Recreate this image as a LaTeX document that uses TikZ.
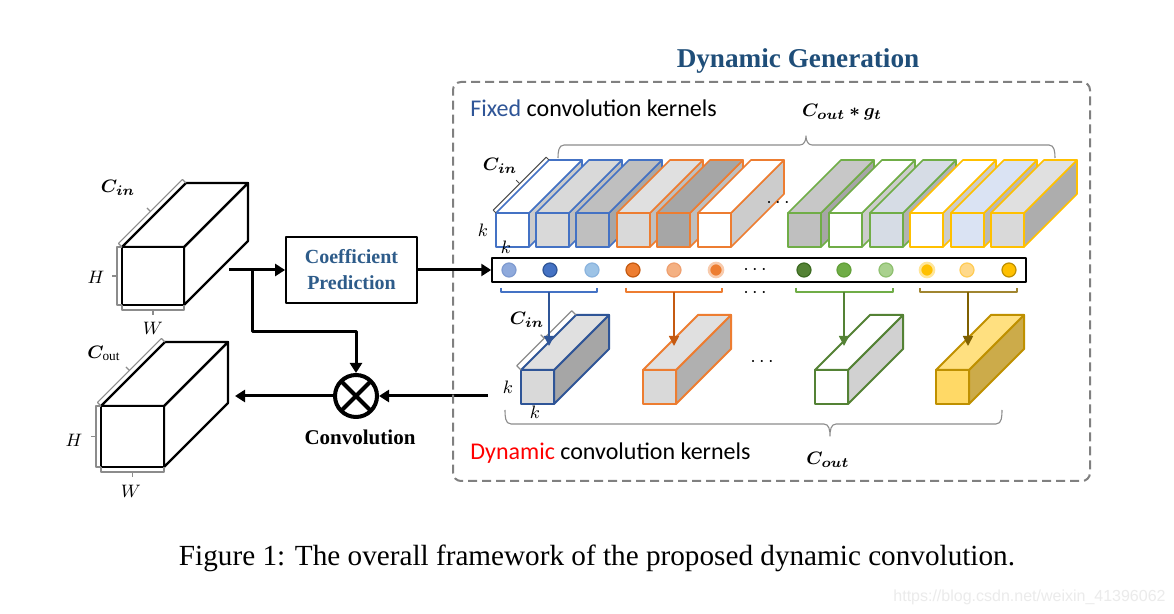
\documentclass[tikz,border=0pt]{standalone}
\usepackage{fontspec}
\setmainfont{Liberation Serif}
\newfontfamily\calfont{Carlito}
\newfontfamily\wmfont{Liberation Sans}
\usepackage{bm}
\usetikzlibrary{calc,arrows.meta}
\definecolor{titleblue}{HTML}{1F4E79}
\definecolor{coefblue}{HTML}{2E5C8A}
\definecolor{fixblue}{HTML}{2F5597}
\definecolor{kb}{HTML}{4472C4}
\definecolor{ko}{HTML}{ED7D31}
\definecolor{kg}{HTML}{70AD47}
\definecolor{ky}{HTML}{FFC000}
\definecolor{ab}{HTML}{2F5597}
\definecolor{ao}{HTML}{C55A11}
\definecolor{ag}{HTML}{548235}
\definecolor{ay}{HTML}{7F6000}
\definecolor{brk}{HTML}{8C8C8C}
\definecolor{fgb}{HTML}{D6DCE5}
\definecolor{fyb}{HTML}{DAE3F3}
\definecolor{c1f}{HTML}{8FAADC}\definecolor{c1d}{HTML}{7F9BD0}
\definecolor{c2f}{HTML}{4472C4}\definecolor{c2d}{HTML}{2F5597}
\definecolor{c3f}{HTML}{9DC3E6}\definecolor{c3d}{HTML}{8BB4DE}
\definecolor{c4f}{HTML}{ED7D31}\definecolor{c4d}{HTML}{C55A11}
\definecolor{c5f}{HTML}{F4B183}\definecolor{c5d}{HTML}{EFA070}
\definecolor{c6f}{HTML}{ED7D31}\definecolor{c6d}{HTML}{F8CBAD}
\definecolor{c7f}{HTML}{548235}\definecolor{c7d}{HTML}{3D6B22}
\definecolor{c8f}{HTML}{70AD47}\definecolor{c8d}{HTML}{63A03A}
\definecolor{c9f}{HTML}{A9D18E}\definecolor{c9d}{HTML}{8FC070}
\definecolor{c10f}{HTML}{FFC000}\definecolor{c10d}{HTML}{FFE699}
\definecolor{c11f}{HTML}{FFD98A}\definecolor{c11d}{HTML}{FFCC55}
\definecolor{c12f}{HTML}{FFC000}\definecolor{c12d}{HTML}{BF9000}
\definecolor{ydk}{HTML}{BF9000}
\definecolor{yfr}{HTML}{FFD966}
\definecolor{ytp}{HTML}{FFE080}
\definecolor{ysd}{HTML}{CCAB4A}
\definecolor{ybr}{HTML}{A08530}
\newcommand\cub[9]{%
  \filldraw[draw=#6,fill=#9] (#1+#3,#2) -- ++(#5,-#5) -- ++(0,#4) -- ++(-#5,#5) -- cycle;
  \filldraw[draw=#6,fill=#8] (#1,#2) -- ++(#5,-#5) -- ++(#3,0) -- ++(-#5,#5) -- cycle;
  \filldraw[draw=#6,fill=#7] (#1,#2) rectangle ++(#3,#4);}
\newcommand\brkt[4]{%
  \coordinate (b1) at ($(#1)!#3!90:(#2)$);
  \coordinate (b2) at ($(#2)!#3!-90:(#1)$);
  \coordinate (bm) at ($(b1)!.5!(b2)$);
  \draw[#4] (#1) -- (b1) -- (b2) -- (#2);
  \draw[#4] (bm) -- ($(bm)!2.5pt!90:(b2)$);}
\begin{document}
\begin{tikzpicture}[x=0.5pt,y=-0.5pt,line join=round,
  blk/.style={line width=1.5pt,-{Triangle[width=6pt,length=5pt]}},
  gbrk/.style={draw=brk,line width=0.55pt},
  mlbl/.style={font=\fontsize{9.5}{11}\selectfont,inner sep=0pt},
  dots/.style={font=\fontsize{10}{11}\selectfont,inner sep=0pt},
  coefdot/.style={circle,minimum size=7pt,inner sep=0pt,line width=0.6pt},
  vbrk/.style={line width=0.6pt},
  varr/.style={line width=0.8pt,-{Triangle[width=5pt,length=5pt]}}]
\useasboundingbox (0,0) rectangle (1174,614);
\fill[white] (0,0) rectangle (1174,614);

% ---------- input and output feature maps ----------
\begin{scope}[line width=1.1pt]
  \cub{122}{247}{62}{58}{64}{black}{white}{white}{white}
  \cub{101}{406}{63}{61}{64}{black}{white}{white}{white}
\end{scope}
\coordinate (iA) at (122,247); \coordinate (iB) at (186,183);
\coordinate (iC) at (122,305); \coordinate (iD) at (184,305);
\brkt{iA}{iB}{2.5pt}{gbrk}
\brkt{iC}{iA}{2.5pt}{gbrk}
\brkt{iD}{iC}{2.5pt}{gbrk}
\coordinate (oA) at (101,406); \coordinate (oB) at (165,342);
\coordinate (oC) at (101,467); \coordinate (oD) at (164,467);
\brkt{oA}{oB}{2.5pt}{gbrk}
\brkt{oC}{oA}{2.5pt}{gbrk}
\brkt{oD}{oC}{2.5pt}{gbrk}
\node[mlbl] (lcin) at (118,188) {$\bm{C_{in}}$};
\node[mlbl] (lh1) at (96,277) {$H$};
\node[mlbl] (lw1) at (153,328) {$W$};
\node[mlbl] (lcout) at (104,353) {$\bm{C}_{\mathrm{out}}$};
\node[mlbl] (lh2) at (74,440) {$H$};
\node[mlbl] (lw2) at (131,491) {$W$};

% ---------- coefficient prediction and convolution ----------
\node[draw,line width=0.9pt,minimum width=65.5pt,minimum height=33pt,align=center,
  text=coefblue,font=\bfseries\fontsize{10}{13}\selectfont] (coef) at (351.5,270) {Coefficient\\Prediction};
\node[circle,draw,line width=2pt,minimum size=21pt,inner sep=0pt] (conv) at (356,396) {};
\draw[line width=2pt] (conv.center) ++(45:21) -- ++(225:42);
\draw[line width=2pt] (conv.center) ++(135:21) -- ++(-45:42);
\node[font=\bfseries\fontsize{10.5}{12}\selectfont] (convlbl) at (360,437) {Convolution};

\coordinate (inR) at (229,270);
\coordinate (br) at (252,270);
\coordinate (bend) at (252,332);
\coordinate (outR) at (235,396);
\coordinate (kin) at (488,396);
\draw[blk] (inR) -- (coef.west);
\draw[blk] (br) -- (bend) -| (conv.north);
\draw[blk] (conv.west) -- (outR);
\draw[blk] (kin) -- (conv.east);

% ---------- dynamic generation frame ----------
\node[draw=black!50,dashed,dash pattern=on 4.5pt off 2.5pt,line width=1pt,rounded corners=4pt,
  minimum width=318.5pt,minimum height=199.5pt,inner sep=0pt] (frame) at (771.5,281.5) {};
\node[text=titleblue,font=\bfseries\fontsize{13.6}{15}\selectfont] (title) at (798,61) {Dynamic Generation};
\node[anchor=west,inner sep=0pt,font=\calfont\fontsize{12}{13}\selectfont] (fixlbl) at (470,108)
  {\textcolor{fixblue}{Fixed} convolution kernels};
\node[anchor=west,inner sep=0pt,font=\calfont\fontsize{12}{13}\selectfont] (dynlbl) at (470,453)
  {\textcolor{red}{Dynamic} convolution kernels};

% fixed kernels
\begin{scope}[line width=0.8pt]
  \cub{496}{213}{33}{34}{53}{kb}{white}{white}{black!20}
  \cub{536}{213}{33}{34}{53}{kb}{black!15}{black!15}{black!25}
  \cub{576}{213}{33}{34}{53}{kb}{black!25}{black!25}{black!35}
  \cub{617}{213}{33}{34}{53}{ko}{black!15}{black!12}{black!25}
  \cub{657}{213}{33}{34}{53}{ko}{black!35}{black!35}{black!25}
  \cub{698}{213}{33}{34}{53}{ko}{white}{white}{black!20}
  \cub{788}{213}{33}{34}{53}{kg}{black!25}{black!22}{black!35}
  \cub{829}{213}{33}{34}{53}{kg}{white}{white}{black!20}
  \cub{870}{213}{33}{34}{53}{kg}{fgb}{fgb}{black!30}
  \cub{910}{213}{33}{34}{53}{ky}{white}{white}{black!20}
  \cub{951}{213}{33}{34}{53}{ky}{fyb}{fyb}{black!28}
  \cub{991}{213}{33}{34}{53}{ky}{black!15}{black!12}{black!32}
\end{scope}
\coordinate (fA) at (496,213); \coordinate (fB) at (549,160);
\brkt{fA}{fB}{2pt}{draw=black!70,line width=0.5pt}
\node[mlbl] (fcin) at (500,166) {$\bm{C_{in}}$};
\node[mlbl] (fk1) at (483,230) {$k$};
\node[mlbl] (fk2) at (506,247) {$k$};
\node[dots] (fdots) at (778,203) {$\cdots$};
\draw[brk,line width=0.55pt] (558,158) to[out=90,in=180] (564,145) -- (800,145)
  to[out=0,in=-90] (806,136) to[out=-90,in=180] (812,145) -- (1049,145) to[out=0,in=90] (1055,158);
\node[mlbl] (ltop) at (842,112) {$\bm{C_{out}*g_t}$};

% coefficient vector
\node[draw,line width=0.75pt,minimum width=267pt,minimum height=12pt,inner sep=0pt] (vec) at (759,270) {};
\draw[blk] (coef.east) -- (vec.west);
\node[coefdot,fill=c1f,draw=c1d] (c1) at (509,270) {};
\node[coefdot,fill=c2f,draw=c2d] (c2) at (550,270) {};
\node[coefdot,fill=c3f,draw=c3d] (c3) at (592,270) {};
\node[coefdot,fill=c4f,draw=c4d] (c4) at (633,270) {};
\node[coefdot,fill=c5f,draw=c5d] (c5) at (674,270) {};
\node[coefdot,fill=c6f,draw=c6d,line width=1.3pt] (c6) at (716,270) {};
\node[dots] (vdots) at (755,270) {$\cdots$};
\node[coefdot,fill=c7f,draw=c7d] (c7) at (804,270) {};
\node[coefdot,fill=c8f,draw=c8d] (c8) at (844,270) {};
\node[coefdot,fill=c9f,draw=c9d] (c9) at (886,270) {};
\node[coefdot,fill=c10f,draw=c10d,line width=1.3pt] (c10) at (927,270) {};
\node[coefdot,fill=c11f,draw=c11d] (c11) at (967,270) {};
\node[coefdot,fill=c12f,draw=c12d] (c12) at (1009,270) {};
\node[dots] (bdots) at (755,293) {$\cdots$};

% dynamic kernels
\begin{scope}[line width=1pt]
  \cub{521}{370}{33}{34}{55}{ab}{black!15}{black!12}{black!35}
  \cub{643}{370}{33}{34}{55}{ko}{black!15}{black!12}{black!31}
  \cub{815}{370}{33}{34}{55}{ag}{white}{white}{black!18}
  \cub{936}{370}{33}{34}{55}{ydk}{yfr}{ytp}{ysd}
\end{scope}
\node[dots] (ddots) at (762,362) {$\cdots$};
\coordinate (dA) at (521,370); \coordinate (dB) at (576,315);
\brkt{dA}{dB}{3pt}{gbrk}
\node[mlbl] (dcin) at (527,320) {$\bm{C_{in}}$};
\node[mlbl] (dk1l) at (508,387) {$k$};
\node[mlbl] (dk2l) at (535,412) {$k$};

% selection brackets and arrows
\coordinate (s1) at (549,292); \coordinate (t1) at (549,346);
\coordinate (s2) at (674,292); \coordinate (t2) at (674,346);
\coordinate (s3) at (844,292); \coordinate (t3) at (844,346);
\coordinate (s4) at (968,292); \coordinate (t4) at (968,346);
\draw[vbrk,draw=kb] (501,288) -- (501,292) -- (597,292) -- (597,288);
\draw[vbrk,draw=ko] (626,288) -- (626,292) -- (722,292) -- (722,288);
\draw[vbrk,draw=kg] (796,288) -- (796,292) -- (893,292) -- (893,288);
\draw[vbrk,draw=ybr] (920,288) -- (920,292) -- (1017,292) -- (1017,288);
\draw[varr,draw=ab,fill=ab] (s1) -- (t1);
\draw[varr,draw=ao,fill=ao] (s2) -- (t2);
\draw[varr,draw=ag,fill=ag] (s3) -- (t3);
\draw[varr,draw=ay,fill=ay] (s4) -- (t4);

% bottom brace
\draw[brk,line width=0.55pt] (505,410) to[out=-90,in=180] (511,424) -- (824,424)
  to[out=0,in=90] (830,436) to[out=90,in=180] (836,424) -- (996,424) to[out=0,in=-90] (1002,410);
\node[mlbl] (lbot) at (828,460) {$\bm{C_{out}}$};

% caption and watermark
\node[font=\fontsize{14.6}{17}\selectfont] (cap) at (597,558)
  {Figure 1: The overall framework of the proposed dynamic convolution.};
\node[font=\wmfont\fontsize{8}{9}\selectfont,text=black!8,anchor=east,inner sep=0pt] (wm) at (1166,597)
  {https://blog.csdn.net/weixin\_41396062};
\end{tikzpicture}
\end{document}
